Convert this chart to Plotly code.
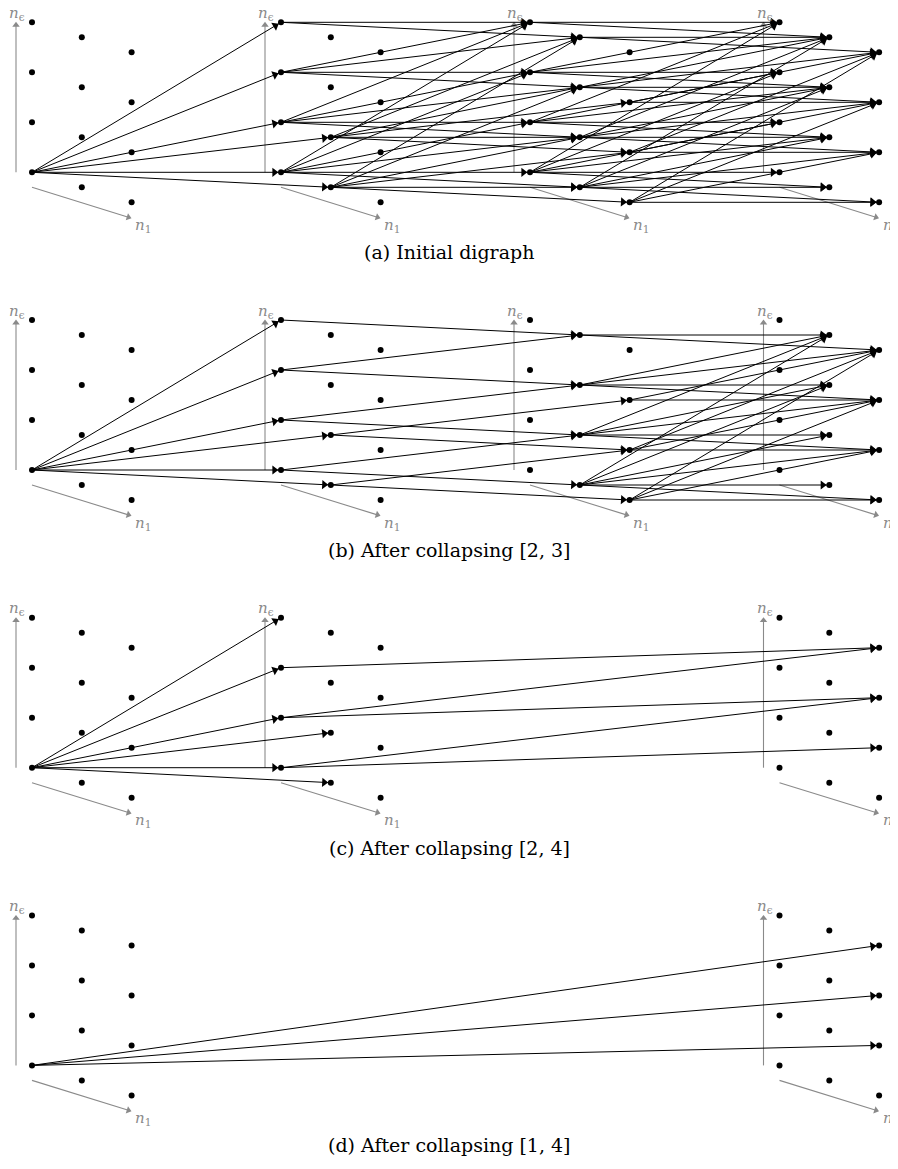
import math
import plotly.graph_objects as go

# ---------------- data ----------------
N1_VALUES = [0, 1, 2]            # n_1 coordinate of grid nodes
NEPS_VALUES = [0, 1, 2, 3]       # n_eps coordinate of grid nodes
PANEL_CAPTIONS = [
    "(a) Initial digraph",
    "(b) After collapsing [2, 3]",
    "(c) After collapsing [2, 4]",
    "(d) After collapsing [1, 4]",
]
PANEL_LAYERS = [[1, 2, 3, 4], [1, 2, 3, 4], [1, 2, 4], [1, 4]]
START_NODE = (0, 0)              # (n_1, n_eps) in first layer
STEPS_FULL = [(0, 0), (0, 1), (0, 2), (0, 3), (1, 0), (1, 1)]
STEPS_23 = [(1, 0), (1, 1)]
STEPS_24 = [(2, 1), (2, 2)]
STEPS_14 = [(2, 1), (2, 2), (2, 3)]
PANEL_STEPS = [
    [STEPS_FULL, STEPS_FULL, STEPS_FULL],
    [STEPS_FULL, STEPS_23, STEPS_FULL],
    [STEPS_FULL, STEPS_24],
    [STEPS_14],
]
LABEL_NEPS = "<i>n</i><sub>ϵ</sub>"
LABEL_N1 = "<i>n</i><sub>1</sub>"

# ---------------- layout constants ----------------
PAGE_W, PAGE_H = 898, 1169
BODY_MARGIN = 8                   # default page margin around the plot div
FIG_W = PAGE_W - BODY_MARGIN
FIG_H = PAGE_H - 2 * BODY_MARGIN
LAYER_X = {1: 32, 2: 281, 3: 530, 4: 779.5}
PANEL_Y0 = 172.3
PANEL_DY = 297.7
N1_DX, N1_DY = 49.8, 15.0
NEPS_DY = 50.0
GRAY = "#8a8a8a"
HEAD_SIZE = 8
AXIS_HEAD_SIZE = 6.5
STANDOFF = 2.0


def pos(layer, p, i, j):
    x0 = LAYER_X[layer]
    y0 = PANEL_Y0 + PANEL_DY * p
    return x0 + N1_DX * i, y0 + N1_DY * i - NEPS_DY * j


def head(xa, ya, xb, yb, size, standoff):
    dx, dy = xb - xa, yb - ya
    d = math.hypot(dx, dy)
    ux, uy = dx / d, dy / d
    r = size / 2.0
    tip = 2 * r / math.sqrt(3)
    cx = xb - ux * (standoff + tip)
    cy = yb - uy * (standoff + tip)
    ang = math.degrees(math.atan2(dy, dx))
    return cx, cy, ang, xb - ux * standoff, yb - uy * standoff


fig = go.Figure()
annotations = []

ax_lx, ax_ly = [], []
ax_hx, ax_hy, ax_ha = [], [], []
ed_lx, ed_ly = [], []
ed_hx, ed_hy, ed_ha = [], [], []
nd_x, nd_y = [], []

for p, layers in enumerate(PANEL_LAYERS):
    y0 = PANEL_Y0 + PANEL_DY * p
    for L in layers:
        x0 = LAYER_X[L]
        for (xa, ya, xb, yb) in [(x0 - 16, y0, x0 - 16, y0 - 151),
                                 (x0, y0 + 15, x0 + 100, y0 + 46)]:
            cx, cy, ang, ex, ey = head(xa, ya, xb, yb, AXIS_HEAD_SIZE, 0)
            ax_lx += [xa, ex - (xb - xa) * 0.02, None]
            ax_ly += [ya, ey - (yb - ya) * 0.02, None]
            ax_hx.append(cx); ax_hy.append(cy); ax_ha.append(ang)
        annotations.append(dict(x=x0 - 15, y=y0 - 159, xref="x", yref="y",
                                text=LABEL_NEPS, showarrow=False,
                                font=dict(family="DejaVu Serif", size=15, color=GRAY)))
        annotations.append(dict(x=x0 + 101, y=y0 + 53, xref="x", yref="y",
                                xanchor="left",
                                text=LABEL_N1, showarrow=False,
                                font=dict(family="DejaVu Serif", size=15, color=GRAY)))
        for i in N1_VALUES:
            for j in NEPS_VALUES:
                x, y = pos(L, p, i, j)
                nd_x.append(x); nd_y.append(y)
    active = {START_NODE}
    for k, steps in enumerate(PANEL_STEPS[p]):
        La, Lb = layers[k], layers[k + 1]
        nxt = set()
        for (i, j) in sorted(active):
            for (di, dj) in steps:
                ti, tj = i + di, j + dj
                if ti in N1_VALUES and tj in NEPS_VALUES:
                    nxt.add((ti, tj))
                    xa, ya = pos(La, p, i, j)
                    xb, yb = pos(Lb, p, ti, tj)
                    cx, cy, ang, ex, ey = head(xa, ya, xb, yb, HEAD_SIZE, STANDOFF)
                    ed_lx += [xa, xb, None]
                    ed_ly += [ya, yb, None]
                    ed_hx.append(cx); ed_hy.append(cy); ed_ha.append(ang)
        active = nxt
    annotations.append(dict(x=449, y=y0 + 80, xref="x", yref="y",
                            text=PANEL_CAPTIONS[p], showarrow=False,
                            font=dict(family="DejaVu Serif", size=19, color="black")))

fig.add_trace(go.Scatter(x=ax_lx, y=ax_ly, mode="lines",
                         line=dict(color=GRAY, width=1.1),
                         hoverinfo="skip", showlegend=False))
fig.add_trace(go.Scatter(x=ax_hx, y=ax_hy, mode="markers",
                         marker=dict(symbol="triangle-right", size=AXIS_HEAD_SIZE,
                                     color=GRAY, angle=ax_ha, line=dict(width=0)),
                         hoverinfo="skip", showlegend=False))
fig.add_trace(go.Scatter(x=ed_lx, y=ed_ly, mode="lines",
                         line=dict(color="black", width=1),
                         hoverinfo="skip", showlegend=False))
fig.add_trace(go.Scatter(x=nd_x, y=nd_y, mode="markers",
                         marker=dict(size=6, color="black", line=dict(width=0)),
                         hoverinfo="skip", showlegend=False))
fig.add_trace(go.Scatter(x=ed_hx, y=ed_hy, mode="markers",
                         marker=dict(symbol="triangle-right", size=HEAD_SIZE,
                                     color="black", angle=ed_ha, line=dict(width=0)),
                         hoverinfo="skip", showlegend=False))

fig.update_layout(
    width=FIG_W, height=FIG_H,
    margin=dict(l=0, r=0, t=0, b=0),
    paper_bgcolor="white", plot_bgcolor="white",
    xaxis=dict(range=[BODY_MARGIN, BODY_MARGIN + FIG_W], visible=False, fixedrange=True),
    yaxis=dict(range=[BODY_MARGIN + FIG_H, BODY_MARGIN], visible=False, fixedrange=True),
    annotations=annotations,
    showlegend=False,
)
fig.write_html("out.html")
